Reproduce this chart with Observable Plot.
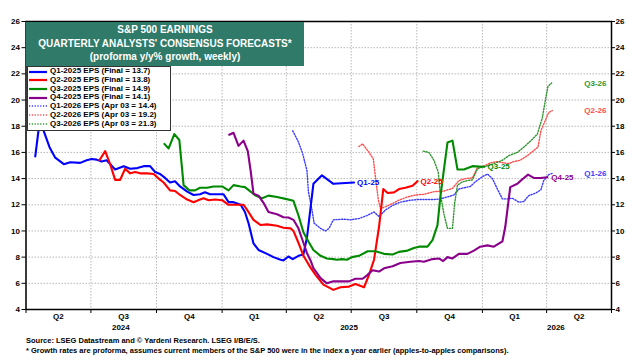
<!DOCTYPE html>
<html><head><meta charset="utf-8">
<script src="https://cdn.jsdelivr.net/npm/d3@7"></script>
<script src="https://cdn.jsdelivr.net/npm/@observablehq/plot@0.6"></script>
<style>
body{margin:0;background:#fff;}
#wrap{position:relative;width:637px;height:360px;font-family:"Liberation Sans",Arial,sans-serif;overflow:hidden;}
#title{position:absolute;left:26px;top:22px;width:278px;height:44px;background:#2f7a68;color:#fff;font-weight:bold;font-size:10px;text-align:center;line-height:13.6px;padding-top:1.3px;box-sizing:border-box;}
#legend{position:absolute;left:27px;top:66px;width:144px;height:65px;background:#fff;border:1px solid #333;box-sizing:border-box;padding-top:0.4px;}
#legend .row{height:8.7px;display:flex;align-items:center;font-size:8px;font-weight:bold;white-space:nowrap;line-height:8.7px;}
#legend svg{flex:none;margin-right:2px;}
.foot{position:absolute;left:26px;font-size:7.5px;font-weight:bold;white-space:nowrap;line-height:9px;}
</style></head>
<body>
<div id="wrap">
<div id="chart"></div>
<div id="title"></div>
<div id="legend"></div>
<div class="foot" id="src" style="top:335.5px"></div>
<div class="foot" id="note" style="top:345.5px"></div>
</div>
<script>
// ---------- texts ----------
const titleLines = ["S&P 500 EARNINGS", "QUARTERLY ANALYSTS' CONSENSUS FORECASTS*", "(proforma y/y% growth, weekly)"];
const sourceText = "Source: LSEG Datastream and \u00A9 Yardeni Research. LSEG I/B/E/S.";
const noteText = "* Growth rates are proforma, assumes current members of the S&P 500 were in the index a year earlier (apples-to-apples comparisons).";
const legendLabels = [
  "Q1-2025 EPS (Final = 13.7)", "Q2-2025 EPS (Final = 13.8)", "Q3-2025 EPS (Final = 14.9)",
  "Q4-2025 EPS (Final = 14.1)", "Q1-2026 EPS (Apr 03 = 14.4)", "Q2-2026 EPS (Apr 03 = 19.2)",
  "Q3-2026 EPS (Apr 03 = 21.3)"];
const endLabels = ["Q1-25", "Q2-25", "Q3-25", "Q4-25", "Q1-26", "Q2-26", "Q3-26"];

// ---------- axis ticks ----------
const yTicks = [4, 6, 8, 10, 12, 14, 16, 18, 20, 22, 24, 26];
const quarterStarts = ["2024-04-01","2024-07-01","2024-10-01","2025-01-01","2025-04-01","2025-07-01","2025-10-01","2026-01-01","2026-04-01","2026-07-01"];
const quarterNames = ["Q2","Q3","Q4","Q1","Q2","Q3","Q4","Q1","Q2"];
const yearNames = ["2024","2025","2026"];
const yearLabelDates = ["2024-08-12","2025-06-28","2026-04-14"];

// ---------- series (date, % growth) ----------
const q1_2025 = [["2024-04-14",15.7],["2024-04-22",19.2],["2024-04-26",17.6],["2024-05-04",16.4],["2024-05-12",15.6],["2024-05-24",15.1],["2024-06-02",15.25],["2024-06-16",15.2],["2024-06-25",15.4],["2024-07-02",15.5],["2024-07-09",15.45],["2024-07-16",15.3],["2024-07-23",15.4],["2024-08-04",14.7],["2024-08-16",14.95],["2024-08-25",14.75],["2024-09-04",14.8],["2024-09-13",14.95],["2024-09-22",14.95],["2024-09-29",14.5],["2024-10-06",14.35],["2024-10-13",14.05],["2024-10-20",13.7],["2024-10-27",13.8],["2024-11-03",13.4],["2024-11-13",13.0],["2024-11-22",12.75],["2024-12-01",12.8],["2024-12-08",12.95],["2024-12-15",12.8],["2024-12-25",12.8],["2025-01-03",12.8],["2025-01-10",12.2],["2025-01-17",12.2],["2025-01-27",12.0],["2025-02-02",11.45],["2025-02-07",10.6],["2025-02-14",9.05],["2025-02-21",8.55],["2025-03-05",8.25],["2025-03-14",8.0],["2025-03-24",7.8],["2025-03-28",7.75],["2025-04-04",8.05],["2025-04-10",7.85],["2025-04-18",8.1],["2025-04-25",8.2],["2025-04-30",9.5],["2025-05-09",13.6],["2025-05-21",14.25],["2025-06-06",13.6],["2025-07-05",13.7]];
const q2_2025 = [["2024-07-13",15.4],["2024-07-21",16.1],["2024-07-28",15.1],["2024-08-04",13.9],["2024-08-11",13.9],["2024-08-18",14.75],["2024-08-25",14.4],["2024-09-01",14.5],["2024-09-08",14.4],["2024-09-18",14.4],["2024-09-27",14.35],["2024-10-04",14.0],["2024-10-11",13.7],["2024-10-20",13.1],["2024-10-27",13.05],["2024-11-03",12.75],["2024-11-13",12.4],["2024-11-22",12.2],["2024-12-01",12.4],["2024-12-06",12.5],["2024-12-13",12.35],["2024-12-22",12.4],["2025-01-01",12.35],["2025-01-10",12.0],["2025-01-31",12.0],["2025-02-07",11.45],["2025-02-14",10.85],["2025-02-24",10.45],["2025-03-05",10.5],["2025-03-19",10.4],["2025-03-28",10.25],["2025-04-07",10.2],["2025-04-11",10.0],["2025-04-18",9.1],["2025-04-25",8.1],["2025-05-05",7.2],["2025-05-12",6.65],["2025-05-23",5.9],["2025-06-06",5.5],["2025-06-16",5.7],["2025-06-28",5.75],["2025-07-07",5.95],["2025-07-19",5.7],["2025-07-26",6.65],["2025-08-02",7.8],["2025-08-09",10.3],["2025-08-15",13.2],["2025-08-21",12.9],["2025-08-30",12.95],["2025-09-06",13.2],["2025-09-15",13.3],["2025-09-25",13.45],["2025-10-02",13.8]];
const q3_2025 = [["2024-10-12",16.65],["2024-10-18",16.3],["2024-10-26",17.4],["2024-11-02",16.95],["2024-11-08",13.5],["2024-11-16",13.1],["2024-11-24",13.1],["2024-12-01",13.3],["2024-12-11",13.3],["2024-12-20",13.4],["2025-01-01",13.4],["2025-01-10",13.1],["2025-01-17",13.5],["2025-01-27",13.4],["2025-02-02",13.35],["2025-02-10",13.0],["2025-02-17",12.7],["2025-02-26",12.5],["2025-03-07",12.7],["2025-03-19",12.6],["2025-03-31",12.45],["2025-04-11",12.3],["2025-04-18",11.2],["2025-04-25",9.9],["2025-05-02",9.2],["2025-05-09",8.55],["2025-05-19",8.1],["2025-05-28",7.9],["2025-06-06",7.85],["2025-06-11",7.8],["2025-06-18",7.85],["2025-06-25",7.8],["2025-07-02",8.0],["2025-07-12",8.1],["2025-07-24",8.45],["2025-08-04",8.45],["2025-08-16",8.25],["2025-08-28",8.2],["2025-09-06",8.4],["2025-09-18",8.5],["2025-09-27",8.7],["2025-10-04",8.8],["2025-10-16",8.8],["2025-10-23",9.3],["2025-10-30",10.45],["2025-11-03",12.6],["2025-11-13",16.75],["2025-11-20",16.9],["2025-11-27",14.7],["2025-12-06",14.7],["2025-12-18",14.95],["2026-01-01",14.9],["2026-01-04",14.9]];
const q4_2025 = [["2025-01-11",17.35],["2025-01-17",17.5],["2025-01-24",16.5],["2025-01-31",16.9],["2025-02-06",16.1],["2025-02-10",14.6],["2025-02-14",12.85],["2025-02-21",12.7],["2025-02-28",12.15],["2025-03-07",11.45],["2025-03-19",11.27],["2025-03-28",11.05],["2025-04-04",11.03],["2025-04-11",10.85],["2025-04-18",10.2],["2025-04-25",9.1],["2025-04-30",8.3],["2025-05-05",7.75],["2025-05-09",7.16],["2025-05-19",6.4],["2025-05-28",6.0],["2025-06-06",6.15],["2025-06-28",6.15],["2025-07-07",6.35],["2025-07-17",6.35],["2025-07-24",6.65],["2025-07-31",7.0],["2025-08-09",6.9],["2025-08-16",7.15],["2025-08-28",7.3],["2025-09-08",7.55],["2025-09-22",7.65],["2025-10-04",7.7],["2025-10-11",7.65],["2025-10-23",7.85],["2025-11-01",7.9],["2025-11-07",7.7],["2025-11-13",8.0],["2025-11-20",7.9],["2025-11-29",8.25],["2025-12-11",8.25],["2025-12-20",8.5],["2025-12-29",8.8],["2026-01-08",8.9],["2026-01-17",8.8],["2026-01-29",9.2],["2026-02-02",10.3],["2026-02-09",13.35],["2026-02-19",13.6],["2026-02-26",13.95],["2026-03-06",14.3],["2026-03-14",14.05],["2026-03-24",14.05],["2026-04-02",14.1]];
const q1_2026 = [["2025-04-10",17.65],["2025-04-18",16.8],["2025-04-24",15.9],["2025-04-30",14.6],["2025-05-02",13.0],["2025-05-07",11.6],["2025-05-10",10.6],["2025-05-19",10.2],["2025-05-26",10.0],["2025-05-31",10.2],["2025-06-06",10.85],["2025-06-20",10.9],["2025-06-30",10.85],["2025-07-12",10.95],["2025-07-24",11.2],["2025-08-02",11.45],["2025-08-09",11.1],["2025-08-18",11.6],["2025-08-28",11.95],["2025-09-08",12.2],["2025-09-22",12.35],["2025-10-04",12.4],["2025-10-25",12.4],["2025-11-03",12.45],["2025-11-13",12.6],["2025-11-22",12.75],["2025-11-29",13.2],["2025-12-06",13.3],["2025-12-15",13.4],["2025-12-22",13.75],["2026-01-01",14.15],["2026-01-08",14.35],["2026-01-15",14.0],["2026-01-22",13.2],["2026-01-29",12.45],["2026-02-05",12.45],["2026-02-12",12.5],["2026-02-21",12.2],["2026-02-28",12.25],["2026-03-07",12.7],["2026-03-17",12.9],["2026-03-24",13.15],["2026-03-28",13.85],["2026-04-04",14.3],["2026-04-09",14.4]];
const q2_2026 = [["2025-07-12",16.45],["2025-07-17",16.65],["2025-07-26",16.0],["2025-08-01",15.5],["2025-08-04",14.1],["2025-08-08",12.4],["2025-08-11",11.7],["2025-08-18",11.85],["2025-08-28",12.1],["2025-09-06",12.35],["2025-09-18",12.6],["2025-09-29",12.75],["2025-10-11",12.8],["2025-10-25",13.0],["2025-11-08",13.05],["2025-11-20",13.25],["2025-11-29",13.85],["2025-12-08",14.0],["2025-12-18",14.05],["2025-12-25",14.85],["2026-01-03",14.95],["2026-01-12",15.2],["2026-01-22",15.3],["2026-01-31",15.2],["2026-02-07",15.15],["2026-02-14",15.3],["2026-02-23",15.4],["2026-03-05",15.75],["2026-03-14",16.15],["2026-03-20",16.4],["2026-03-24",17.65],["2026-03-31",18.55],["2026-04-04",19.05],["2026-04-09",19.2]];
const q3_2026 = [["2025-10-10",16.1],["2025-10-18",16.0],["2025-10-25",15.4],["2025-10-31",14.5],["2025-11-03",12.85],["2025-11-08",11.3],["2025-11-13",10.2],["2025-11-20",10.2],["2025-11-23",12.1],["2025-11-27",13.5],["2025-12-04",13.75],["2025-12-11",13.85],["2025-12-18",13.9],["2025-12-25",14.75],["2026-01-01",14.9],["2026-01-10",15.0],["2026-01-20",15.2],["2026-01-29",15.4],["2026-02-07",15.75],["2026-02-19",16.0],["2026-02-28",16.4],["2026-03-10",16.9],["2026-03-19",17.4],["2026-03-26",18.65],["2026-03-31",20.2],["2026-04-03",21.05],["2026-04-08",21.3]];

// ---------- build ----------
const parse = s => new Date(s + "T00:00:00Z");
const styles = [
  {color: "#0000ff", dotted: false, dx: 3},
  {color: "#ff0000", dotted: false, dx: 3},
  {color: "#008a00", dotted: false, dx: 3},
  {color: "#8b008b", dotted: false, dx: 4},
  {color: "#3b3bff", dotted: true},
  {color: "#ff4d4d", dotted: true},
  {color: "#2f962f", dotted: true}
];
const seriesData = [q1_2025, q2_2025, q3_2025, q4_2025, q1_2026, q2_2026, q3_2026];
const series = seriesData.map((pts, i) => ({
  legend: legendLabels[i], label: endLabels[i], ...styles[i],
  rows: pts.map(([d, v]) => ({date: parse(d), value: v}))
}));
const qDates = quarterStarts.map(parse);
const qLabelRows = quarterNames.map((n, i) => ({date: new Date((+qDates[i] + +qDates[i + 1]) / 2), name: n}));
const yearRows = yearNames.map((n, i) => ({date: parse(yearLabelDates[i]), name: n}));

const DASH = "1.2,1.6";
const lineMarks = [];
const order = [4, 5, 6, 0, 1, 2, 3];
for (const i of order) {
  const s = series[i];
  lineMarks.push(Plot.line(s.rows, {
    x: "date", y: "value", stroke: s.color,
    strokeWidth: s.dotted ? 1.4 : 2.1,
    strokeDasharray: s.dotted ? DASH : null,
    strokeLinejoin: "round"
  }));
}
const labelMarks = series.map(s => {
  const last = s.rows[s.rows.length - 1];
  return s.dotted
    ? Plot.text([last], {y: "value", frameAnchor: "right", dx: -5, textAnchor: "end", text: () => s.label, fill: s.color, fontWeight: "bold", fontSize: 8})
    : Plot.text([last], {x: "date", y: "value", dx: s.dx, textAnchor: "start", text: () => s.label, fill: s.color, fontWeight: "bold", fontSize: 8});
});

const chart = Plot.plot({
  width: 637, height: 360,
  marginLeft: 25.5, marginRight: 26, marginTop: 21, marginBottom: 51,
  x: {type: "utc", domain: [qDates[0], qDates[qDates.length - 1]], axis: null},
  y: {domain: [4, 26], axis: null},
  style: {fontFamily: "'Liberation Sans', Arial, sans-serif", fontSize: "8px", fontWeight: "bold", background: "white", color: "black", overflow: "visible"},
  marks: [
    Plot.gridX(qDates, {stroke: "#b8b8b8", strokeOpacity: 1, strokeDasharray: "1.5,1.5"}),
    Plot.gridY(yTicks, {stroke: "#b8b8b8", strokeOpacity: 1, strokeDasharray: "1.5,1.5"}),
    Plot.axisY(yTicks, {anchor: "left", tickSize: 4, tickPadding: 2, label: null, fontWeight: "bold"}),
    Plot.axisY(yTicks, {anchor: "right", tickSize: 3, tickPadding: 1, label: null, fontWeight: "bold"}),
    Plot.axisX(qDates, {anchor: "bottom", tickSize: 4, tickFormat: () => "", label: null}),
    Plot.text(qLabelRows, {x: "date", text: "name", frameAnchor: "bottom", dy: 9.5, fontWeight: "bold"}),
    Plot.text(yearRows, {x: "date", text: "name", frameAnchor: "bottom", dy: 20.5, fontWeight: "bold"}),
    ...lineMarks,
    ...labelMarks,
    Plot.frame({stroke: "black", strokeWidth: 1.5})
  ]
});
document.getElementById("chart").append(chart);

// title, legend, footer
document.getElementById("title").innerHTML = titleLines.map(t => `<div>${t.replace(/&/g, "&amp;")}</div>`).join("");
const leg = document.getElementById("legend");
series.forEach(s => {
  const row = document.createElement("div");
  row.className = "row";
  row.innerHTML = `<svg width="20" height="8"><line x1="1" x2="19" y1="4" y2="4" stroke="${s.color}" stroke-width="${s.dotted ? 1.4 : 2.2}" ${s.dotted ? `stroke-dasharray="${DASH}"` : ""}/></svg><span>${s.legend}</span>`;
  leg.append(row);
});
document.getElementById("src").textContent = sourceText;
document.getElementById("note").textContent = noteText;
</script>
</body></html>
